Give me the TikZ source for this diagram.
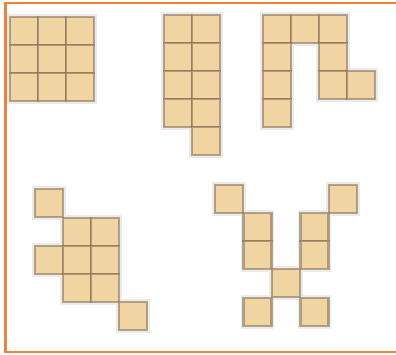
\documentclass[tikz,border=0pt]{standalone}
\usetikzlibrary{positioning}
\definecolor{framec}{RGB}{240,128,58}
\definecolor{tilefill}{RGB}{240,212,162}
\definecolor{tileedge}{RGB}{130,105,78}

% top-left corners of the tiles, in px
\def\tilecells{10/17,38/17,66/17,10/45,38/45,66/45,10/73,38/73,66/73,
  164/15,192/15,164/43,192/43,164/71,192/71,164/99,192/99,192/127,
  263/15,291/15,319/15,263/43,263/71,263/99,319/43,319/71,347/71,
  35/189,63/218,91/218,35/246,63/246,91/246,63/274,91/274,119/302,
  215/185,329/185,243.5/213,243.5/241,300.5/213,300.5/241,272/269,243.5/298,300.5/298}

\begin{document}
\begin{tikzpicture}[x=1pt,y=-1pt,
    tile/.style={fill=tilefill,draw=tileedge,draw opacity=0.55,line width=2.8pt},
    halo/.style={draw=black!8,line width=5.5pt}]
  \useasboundingbox (0,0) rectangle (396,354);
  % frame
  \draw[framec,line width=2.2pt] (420,3) -- (5.5,3) -- (5.5,352) -- (420,352);
  % soft shadow
  \foreach \x/\y in \tilecells
    \draw[halo] (\x,\y) rectangle ++(28,28);
  % tiles
  \foreach \x/\y in \tilecells
    \draw[tile] (\x,\y) rectangle ++(28,28);
\end{tikzpicture}
\end{document}
